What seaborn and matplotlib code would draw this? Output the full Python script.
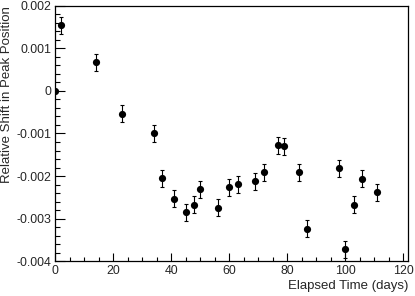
import numpy as np
import pandas as pd
import matplotlib
matplotlib.use('Agg')
import matplotlib.pyplot as plt
import seaborn as sns
from matplotlib.ticker import MultipleLocator, FuncFormatter

# dados
days = [0, 2, 14, 23, 34, 37, 41, 45, 48, 50, 56, 60, 63, 69, 72, 77, 79, 84, 87, 98, 100, 103, 106, 111]
shift = [0.0, 0.00154, 0.00068, -0.00053, -0.00099, -0.00205, -0.00253, -0.00285, -0.00268, -0.00231,
         -0.00275, -0.00226, -0.00219, -0.00212, -0.00191, -0.00128, -0.00130, -0.00191, -0.00324,
         -0.00182, -0.00372, -0.00267, -0.00206, -0.00238]
shift_err = [0.0] + [0.0002] * 23

df = pd.DataFrame({'days': days, 'shift': shift, 'err': shift_err})

sns.set_style('ticks')
plt.rcParams['font.family'] = ['Liberation Sans', 'DejaVu Sans']

fig = plt.figure(figsize=(4.15, 2.96), dpi=100)
ax = fig.add_axes([0.133, 0.118, 0.85, 0.862])

ax.errorbar(df['days'], df['shift'], yerr=df['err'], fmt='none', ecolor='black',
            elinewidth=0.8, capsize=1.3, capthick=0.8, zorder=2)
sns.scatterplot(data=df, x='days', y='shift', color='black', s=27, edgecolor='black',
                linewidth=0, ax=ax, zorder=3)

ax.set_xlim(0, 121.7)
ax.set_ylim(-0.004, 0.002)

ax.xaxis.set_major_locator(MultipleLocator(20))
ax.xaxis.set_minor_locator(MultipleLocator(5))
ax.yaxis.set_major_locator(MultipleLocator(0.001))
ax.yaxis.set_minor_locator(MultipleLocator(0.0002))
ax.yaxis.set_major_formatter(FuncFormatter(lambda v, p: '0' if abs(v) < 1e-12 else f'{v:.3f}'))

ax.tick_params(which='both', direction='in', top=False, right=False, labelsize=8.9, color='black', width=0.8)
ax.tick_params(axis='y', which='major', length=7.5, pad=3)
ax.tick_params(axis='y', which='minor', length=3.8)
ax.tick_params(axis='x', which='major', length=6, pad=3)
ax.tick_params(axis='x', which='minor', length=3)

for sp in ax.spines.values():
    sp.set_visible(True)
    sp.set_color('black')
    sp.set_linewidth(0.9)

ax.set_xlabel('Elapsed Time (days)', fontsize=9.5, loc='right', labelpad=2)
ax.set_ylabel('Relative Shift in Peak Position', fontsize=9.5, loc='top', labelpad=2)

fig.savefig('out.png', dpi=100)
